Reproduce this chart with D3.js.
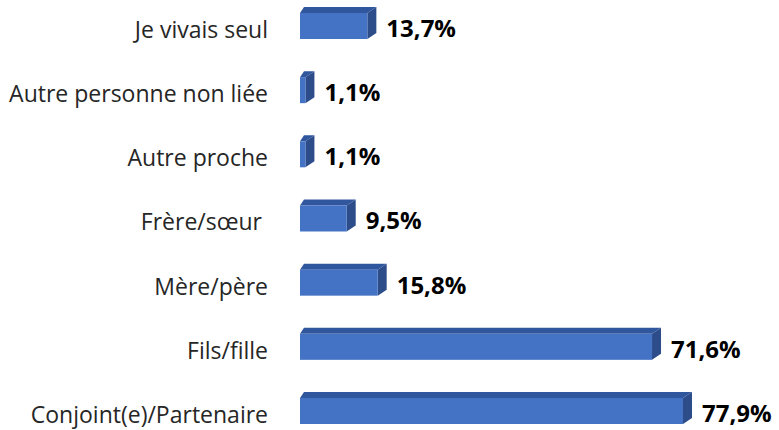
<!DOCTYPE html>
<html>
<head>
<meta charset="utf-8">
<script src="https://cdn.jsdelivr.net/npm/d3@7"></script>
<style>
    body { margin: 0; background: #fff; }
    svg { display: block; }
</style>
</head>
<body>
<div id="chart"></div>
<script>
var categories = ["Je vivais seul", "Autre personne non liée", "Autre proche", "Frère/sœur ", "Mère/père", "Fils/fille", "Conjoint(e)/Partenaire"];
var values = [13.7, 1.1, 1.1, 9.5, 15.8, 71.6, 77.9];
var valueLabels = ["13,7%", "1,1%", "1,1%", "9,5%", "15,8%", "71,6%", "77,9%"];

var width = 779, height = 430;
var depthX = 9, depthY = 6, slant = 4;

var svg = d3.select("#chart")
    .append("svg")
    .attr("width", width)
    .attr("height", height);

var x = d3.scaleLinear()
    .domain([0, 77.9])
    .range([300, 683]);

var y = d3.scaleBand()
    .domain(categories)
    .range([13, 424])
    .paddingInner(0.595)
    .paddingOuter(0);

var rows = categories.map(function (c, i) {
    return {cat: c, value: values[i], label: valueLabels[i]};
});

var bars = svg.selectAll(".bar")
    .data(rows)
    .enter().append("g")
    .attr("class", "bar");

// top face
bars.append("polygon")
    .attr("fill", "#30579E")
    .attr("points", function (d) {
        var x0 = x(0), x1 = x(d.value), t = y(d.cat);
        return [[x0, t], [x0 + slant, t - depthY], [x1 + depthX, t - depthY], [x1, t]].join(" ");
    });

// side face
bars.append("polygon")
    .attr("fill", "#2C4D8A")
    .attr("points", function (d) {
        var x1 = x(d.value), t = y(d.cat), b = t + y.bandwidth();
        return [[x1, t], [x1 + depthX, t - depthY], [x1 + depthX, b - depthY], [x1, b]].join(" ");
    });

// front face
bars.append("rect")
    .attr("fill", "#4472C4")
    .attr("x", x(0))
    .attr("y", function (d) { return y(d.cat); })
    .attr("width", function (d) { return x(d.value) - x(0); })
    .attr("height", y.bandwidth());

// value labels
bars.append("text")
    .attr("x", function (d) { return x(d.value) + depthX + 10; })
    .attr("y", function (d) { return y(d.cat) + y.bandwidth() - 2; })
    .attr("font-family", "Open Sans")
    .attr("font-weight", "bold")
    .attr("font-size", 24)
    .attr("fill", "#000")
    .text(function (d) { return d.label; });

// category labels
svg.selectAll(".cat")
    .data(rows)
    .enter().append("text")
    .attr("class", "cat")
    .attr("x", 268)
    .attr("y", function (d) { return y(d.cat) + y.bandwidth() - 1; })
    .attr("text-anchor", "end")
    .attr("font-family", "Open Sans")
    .attr("font-size", 23)
    .attr("fill", "#262626")
    .style("white-space", "pre")
    .text(function (d) { return d.cat; });
</script>
</body>
</html>
